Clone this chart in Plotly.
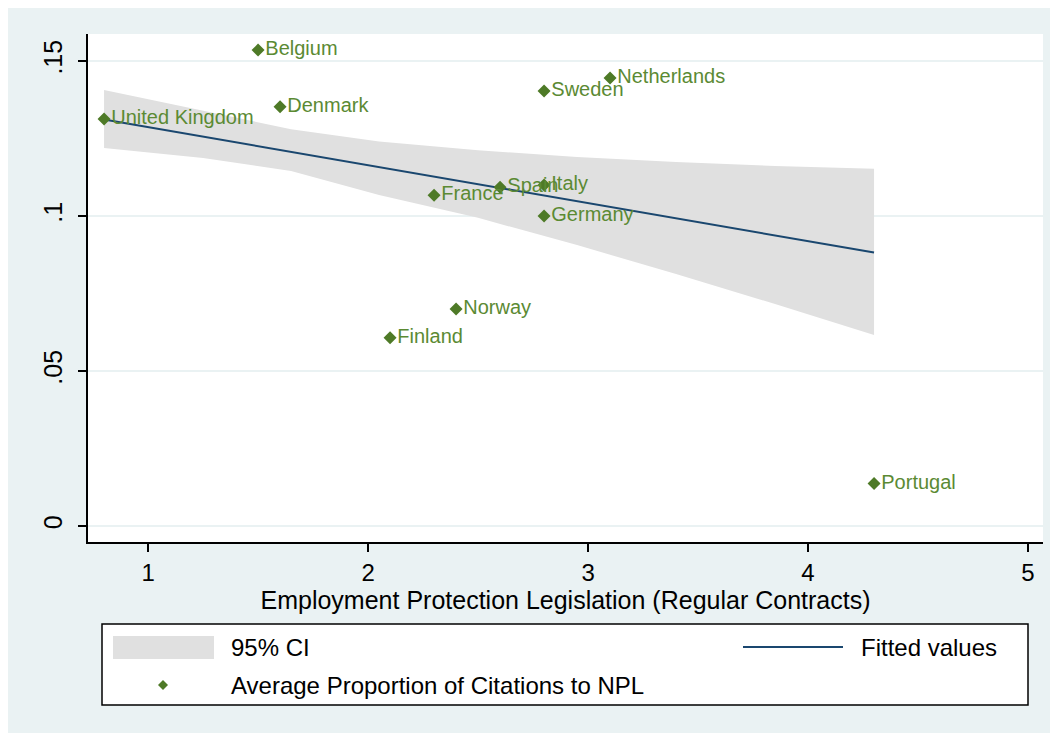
import plotly.graph_objects as go

# country scores (EPL regular contracts) and avg share of citations to NPL
countries = ["United Kingdom", "Belgium", "Denmark", "Netherlands", "Sweden", "Spain",
             "Italy", "France", "Germany", "Norway", "Finland", "Portugal"]
epl = [0.8, 1.5, 1.6, 3.1, 2.8, 2.6, 2.8, 2.3, 2.8, 2.4, 2.1, 4.3]
npl_share = [0.1313, 0.1535, 0.1352, 0.1445, 0.1403, 0.1093, 0.1100, 0.1067,
             0.1000, 0.0700, 0.0607, 0.0137]

# fitted line and 95% CI band
fit_x = [0.8, 4.3]
fit_y = [0.1311, 0.0882]
ci_x = [0.8, 1.25, 1.65, 2.05, 2.5, 2.95, 3.4, 3.85, 4.3]
ci_upper = [0.1406, 0.1339, 0.1280, 0.1240, 0.1212, 0.1190, 0.1174, 0.1161, 0.1152]
ci_lower = [0.1219, 0.1187, 0.1145, 0.1068, 0.0994, 0.0906, 0.0813, 0.0716, 0.0616]

yticks = [0, 0.05, 0.1, 0.15]
yticklabels = ["0", ".05", ".1", ".15"]
xticks = [1, 2, 3, 4, 5]

BG = "#EAF2F3"
GREEN = "#4E7A27"
LABEL_GREEN = "#5B8A33"
NAVY = "#1A476F"
BAND = "#E0E0E0"
FONT = "Liberation Sans, Arial, sans-serif"

# the page adds an 8px body margin, so figure pixels = screen pixels - 8
OFF = 8
W, H = 1058 - OFF, 733 - OFF
L, R, T, B = 88 - OFF, 1043 - OFF, 34 - OFF, 542 - OFF


def pxx(x):
    return (x - OFF - L) / (R - L)


def pxy(y):
    return (B - (y - OFF)) / (B - T)


fig = go.Figure()

fig.add_trace(go.Scatter(
    x=ci_x + ci_x[::-1], y=ci_upper + ci_lower[::-1],
    fill="toself", fillcolor=BAND, line=dict(width=0),
    mode="lines", hoverinfo="skip", showlegend=False, name="95% CI"))

fig.add_trace(go.Scatter(
    x=fit_x, y=fit_y, mode="lines", line=dict(color=NAVY, width=2),
    showlegend=False, name="Fitted values"))

fig.add_trace(go.Scatter(
    x=epl, y=npl_share, mode="markers+text", text=countries,
    textposition="middle right",
    textfont=dict(color=LABEL_GREEN, size=20, family=FONT),
    marker=dict(symbol="diamond", size=10, color=GREEN),
    showlegend=False, name="Average Proportion of Citations to NPL"))

shapes = [
    # legend box
    dict(type="rect", xref="paper", yref="paper",
         x0=pxx(102), x1=pxx(1028), y0=pxy(705), y1=pxy(624),
         fillcolor="white", line=dict(color="black", width=1.5)),
    dict(type="rect", xref="paper", yref="paper",
         x0=pxx(113), x1=pxx(214), y0=pxy(659), y1=pxy(636),
         fillcolor=BAND, line=dict(width=0)),
    dict(type="line", xref="paper", yref="paper",
         x0=pxx(743), x1=pxx(843), y0=pxy(647), y1=pxy(647),
         line=dict(color=NAVY, width=2)),
]
cx, cy, h = 163, 685, 5
shapes.append(dict(
    type="path", xref="paper", yref="paper",
    path=f"M {pxx(cx)},{pxy(cy - h)} L {pxx(cx + h)},{pxy(cy)} "
         f"L {pxx(cx)},{pxy(cy + h)} L {pxx(cx - h)},{pxy(cy)} Z",
    fillcolor=GREEN, line=dict(width=0)))

legend_text = [("95% CI", 229, 647), ("Fitted values", 859, 647),
               ("Average Proportion of Citations to NPL", 229, 685)]
annotations = [dict(text=t, x=pxx(xp), y=pxy(yp), xref="paper", yref="paper",
                    xanchor="left", yanchor="middle", showarrow=False,
                    font=dict(size=24, color="black", family=FONT))
               for t, xp, yp in legend_text]

fig.update_layout(
    width=W, height=H,
    margin=dict(l=L, r=W - R, t=T, b=H - B),
    paper_bgcolor=BG, plot_bgcolor="white",
    font=dict(family=FONT, color="black", size=24),
    shapes=shapes, annotations=annotations,
    xaxis=dict(range=[0.727, 5.068], tickvals=xticks, showgrid=False,
               zeroline=False, showline=True, linecolor="black", linewidth=1.5,
               ticks="outside", ticklen=8, tickwidth=1.5, tickcolor="black",
               tickfont=dict(size=24),
               title=dict(text="Employment Protection Legislation (Regular Contracts)",
                          font=dict(size=25), standoff=0)),
    yaxis=dict(range=[-0.00516, 0.1587], tickvals=yticks, ticktext=yticklabels,
               tickangle=-90, showgrid=True, gridcolor=BG, gridwidth=1.5,
               zeroline=False, showline=True, linecolor="black", linewidth=1.5,
               ticks="outside", ticklen=8, tickwidth=1.5, tickcolor="black",
               tickfont=dict(size=25), ticklabelstandoff=6),
)

fig.write_html("out.html")
